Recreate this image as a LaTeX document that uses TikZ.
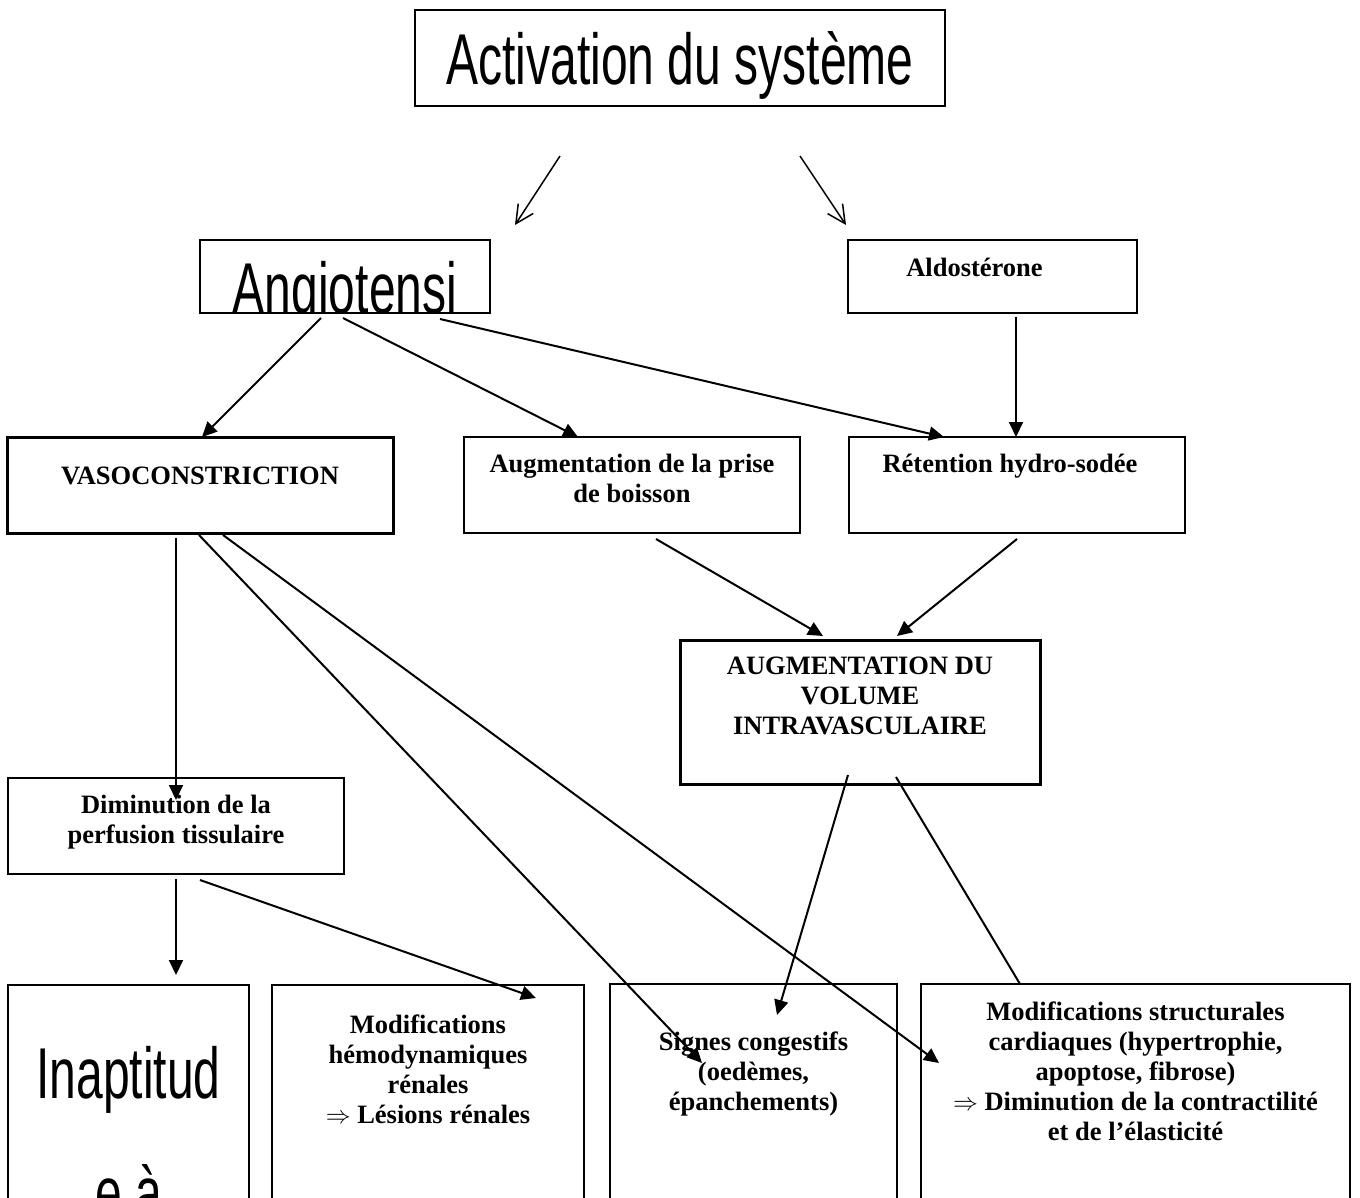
\documentclass[tikz,border=0pt]{standalone}
\usepackage{fontspec}
\setmainfont{Liberation Serif}
\newfontfamily\narrowsans[FakeStretch=0.667]{Liberation Sans}
\usetikzlibrary{arrows.meta}

\tikzset{
  box/.style={rectangle, draw=black, line width=2.5pt, inner sep=0pt, outer sep=0pt,
              anchor=north west},
  heavy/.style={box, line width=3pt},
  txt/.style={font=\fontsize{26.5}{30}\selectfont\bfseries, align=center,
              inner sep=0pt, anchor=north},
  bigtxt/.style={font=\narrowsans\fontsize{72}{119}\selectfont, align=center,
                 inner sep=0pt, anchor=base},
  arr/.style={-{Triangle[length=15pt, width=14pt]}, line width=2pt},
  barb/.style={-{Straight Barb[length=18pt, width=18pt]}, line width=1.5pt},
  plain/.style={line width=2pt},
}

\begin{document}
\begin{tikzpicture}[x=1pt, y=-1pt]
\useasboundingbox (0,0) rectangle (1360,1198);
\clip (0,0) rectangle (1360,1198);

% --- top ---
\node[box, line width=2pt, minimum width=530, minimum height=96,
      label={[bigtxt, yshift=-75pt]north:{Activation du système}}] (act) at (415,10) {};

\node[box, line width=2pt, minimum width=290, minimum height=73,
      path picture={\node[bigtxt] at ([yshift=-74pt]path picture bounding box.north) {Angiotensi};}]
      (angio) at (200,240) {};
\node[box, line width=2pt, minimum width=289, minimum height=73,
      label={[txt, xshift=-18pt, yshift=-18pt]north:{Aldostérone}}] (aldo) at (848,240) {};

% --- middle row ---
\node[heavy, minimum width=386, minimum height=96,
      label={[txt, yshift=-30pt]north:{VASOCONSTRICTION}}] (vaso) at (7,437) {};
\node[box, minimum width=336, minimum height=96,
      label={[txt, yshift=-17pt]north:{Augmentation de la prise\\de boisson}}] (boisson) at (464,437) {};
\node[box, minimum width=336, minimum height=96,
      label={[txt, xshift=-7pt, yshift=-17pt]north:{Rétention hydro-sodée}}] (reten) at (849,437) {};

\node[heavy, minimum width=360, minimum height=144,
      label={[txt, yshift=-17pt]north:{AUGMENTATION DU\\VOLUME\\INTRAVASCULAIRE}}] (vol) at (680,640) {};
\node[box, minimum width=336, minimum height=96,
      label={[txt, yshift=-17pt]north:{Diminution de la\\perfusion tissulaire}}] (dimin) at (8,778) {};

% --- bottom row (cut by the page) ---
\node[box, minimum width=241, minimum height=260,
      label={[bigtxt, anchor=north, yshift=-61pt]north:{Inaptitud\\e à}}] (inapt) at (8,985) {};
\node[box, minimum width=312, minimum height=260,
      label={[txt, yshift=-30pt]north:{Modifications\\hémodynamiques\\rénales\\$\Rightarrow$ Lésions rénales}}]
      (hemo) at (272,985) {};
\node[box, minimum width=287, minimum height=260,
      label={[txt, yshift=-48pt]north:{Signes congestifs\\(oedèmes,\\épanchements)}}] (signes) at (610,984) {};
\node[box, minimum width=429, minimum height=260,
      label={[txt, yshift=-18pt]north:{Modifications structurales\\cardiaques (hypertrophie,\\apoptose, fibrose)\\$\Rightarrow$ Diminution de la contractilité\\et de l’élasticité}}]
      (struct) at (921,984) {};

% --- connectors ---
\draw[barb] ([xshift=-120pt, yshift=-50pt]act.south) -- ([xshift=170pt, yshift=15pt]angio.north);
\draw[barb] ([xshift=120pt, yshift=-50pt]act.south) -- ([xshift=-146.5pt, yshift=15pt]aldo.north);

\draw[arr] ([xshift=-24pt, yshift=-5pt]angio.south) -- ([xshift=2pt]vaso.north);
\draw[arr] ([xshift=-2pt, yshift=-5pt]angio.south) -- ([xshift=-54pt]boisson.north);
\draw[arr] ([xshift=95pt, yshift=-6pt]angio.south) -- ([xshift=-73pt]reten.north);
\draw[arr] ([xshift=23.5pt, yshift=-4pt]aldo.south) -- ([xshift=-1pt]reten.north);

\draw[arr] ([xshift=24pt, yshift=-6pt]boisson.south) -- ([xshift=-37pt, yshift=4pt]vol.north);
\draw[arr] ([yshift=-6pt]reten.south) -- ([xshift=37pt, yshift=4pt]vol.north);

\draw[arr] ([xshift=-24pt, yshift=-5pt]vaso.south) -- ([yshift=-22pt]dimin.north);
\draw[arr] ([xshift=-1pt, yshift=-2pt]vaso.south) -- ([xshift=-51.5pt, yshift=-79pt]signes.north);
\draw[arr] ([xshift=23pt, yshift=-2pt]vaso.south) -- ([xshift=-196.5pt, yshift=-79pt]struct.north);

\draw[arr] ([yshift=-5pt]dimin.south) -- ([xshift=47.5pt, yshift=10pt]inapt.north);
\draw[arr] ([xshift=24pt, yshift=-6pt]dimin.south) -- ([xshift=108pt, yshift=-13pt]hemo.north);

\draw[arr] ([xshift=-12pt, yshift=9pt]vol.south) -- ([xshift=23.5pt, yshift=-31pt]signes.north);
\draw[plain] ([xshift=36pt, yshift=7pt]vol.south) -- ([xshift=-115.5pt]struct.north);

\end{tikzpicture}
\end{document}
